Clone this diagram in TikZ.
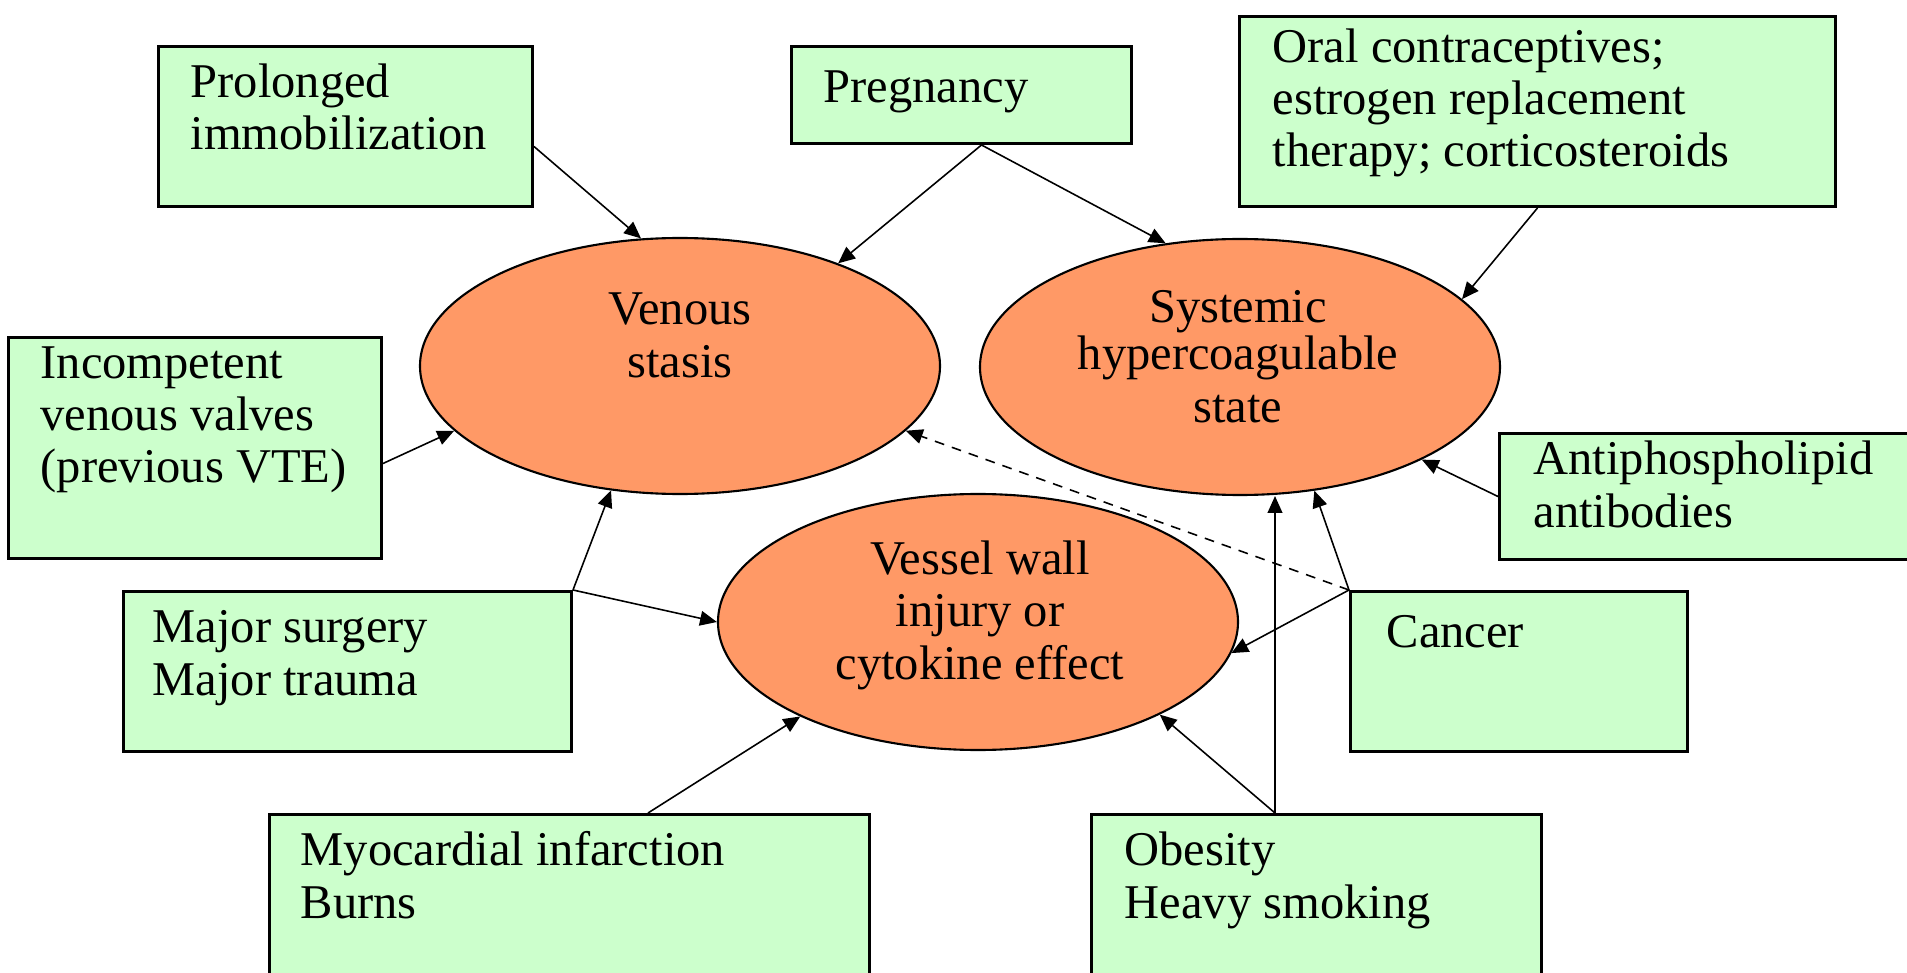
\documentclass[tikz,border=0pt]{standalone}
\usepackage{fontspec}
\setmainfont{Liberation Serif}
\usetikzlibrary{shapes.geometric,arrows.meta}

\definecolor{riskgreen}{RGB}{204,255,204}
\definecolor{stateorange}{RGB}{255,153,102}

\begin{document}
\begin{tikzpicture}[>={Triangle[length=4.8pt,width=4.2pt]},
    every node/.style={font=\fontsize{13.8pt}{14.8pt}\selectfont},
    riskbox/.style={draw, line width=0.85pt, fill=riskgreen, anchor=north west, inner sep=0pt},
    statebox/.style={ellipse, draw, line width=0.6pt, fill=stateorange,
                     minimum width=5.2cm, minimum height=2.56cm, inner sep=0pt},
    risktext/.style={anchor=base west, align=left, inner sep=0pt},
    statetext/.style={anchor=base, align=center, inner sep=0pt},
    link/.style={line width=0.45pt, ->}]
    \useasboundingbox (0,0) rectangle (19.07,-9.73);

    % Risk factor boxes
    \node[riskbox, minimum width=3.74cm, minimum height=1.60cm] (immob) at (1.57,-0.45) {};
    \node[riskbox, minimum width=3.40cm, minimum height=0.97cm] (pregnancy) at (7.90,-0.45) {};
    \node[riskbox, minimum width=5.96cm, minimum height=1.90cm] (hormones) at (12.38,-0.15) {};
    \node[riskbox, minimum width=3.73cm, minimum height=2.21cm] (valves) at (0.07,-3.36) {};
    \node[riskbox, minimum width=4.20cm, minimum height=1.26cm] (apl) at (14.98,-4.32) {};
    \node[riskbox, minimum width=4.48cm, minimum height=1.60cm] (surgery) at (1.22,-5.90) {};
    \node[riskbox, minimum width=3.37cm, minimum height=1.60cm] (cancer) at (13.49,-5.90) {};
    \node[riskbox, minimum width=6.00cm, minimum height=1.80cm] (mi) at (2.68,-8.13) {};
    \node[riskbox, minimum width=4.50cm, minimum height=1.80cm] (smoking) at (10.90,-8.13) {};

    % texts sit on the baseline of their last line
    \node[risktext] (immob-txt) at (1.90,-1.50) {Prolonged\\immobilization};
    \node[risktext] (pregnancy-txt) at (8.23,-1.03) {Pregnancy};
    \node[risktext] (hormones-txt) at (12.72,-1.67) {Oral contraceptives;\\estrogen replacement\\therapy; corticosteroids};
    \node[risktext] (valves-txt) at (0.40,-4.83) {Incompetent\\venous valves\\(previous VTE)};
    \node[risktext] (apl-txt) at (15.33,-5.27) {Antiphospholipid\\antibodies};
    \node[risktext] (surgery-txt) at (1.52,-6.95) {Major surgery\\Major trauma};
    \node[risktext] (cancer-txt) at (13.86,-6.47) {Cancer};
    \node[risktext] (mi-txt) at (3.00,-9.18) {Myocardial infarction\\Burns};
    \node[risktext] (smoking-txt) at (11.24,-9.18) {Obesity\\Heavy smoking};

    % Virchow's triad
    \node[statebox] (stasis) at (6.80,-3.66) {};
    \node[statebox] (hypercoag) at (12.40,-3.67) {};
    \node[statebox] (injury) at (9.78,-6.22) {};

    \node[statetext] (stasis-txt) at (6.80,-3.77) {Venous\\stasis};
    \node[statetext] (hypercoag-txt) at (12.38,-4.22) {Systemic\\[-1.2pt]hypercoagulable\\state};
    \node[statetext] (injury-txt) at (9.80,-6.79) {Vessel wall\\injury or\\cytokine effect};

    % Tails that are not on an anchor
    \coordinate (immob-out) at ([yshift=-0.2cm]immob.east);
    \coordinate (pregnancy-out) at ([xshift=0.2cm]pregnancy.south);
    \coordinate (valves-out) at ([yshift=-0.155cm]valves.east);
    \coordinate (mi-out) at ([xshift=3.8cm]mi.north west);
    \coordinate (smoking-out) at ([xshift=1.85cm]smoking.north west);

    % Arrows
    \draw[link] (immob-out) -- (stasis.107);
    \draw[link] (pregnancy-out) -- (stasis.33);
    \draw[link] (pregnancy-out) -- (hypercoag.121);
    \draw[link] (hormones.south) -- (hypercoag.17);
    \draw[link] (valves-out) -- (stasis.196);
    \draw[link] (apl.west) -- (hypercoag.333);
    \draw[link] (surgery.north east) -- (stasis.241);
    \draw[link] (surgery.north east) -- (injury.180);
    \draw[link, dash pattern=on 2.8pt off 2.3pt] (cancer.north west) -- (stasis.344);
    \draw[link] (cancer.north west) -- (injury.353);
    \draw[link] (cancer.north west) -- (hypercoag.301);
    \draw[link] (mi-out) -- (injury.208);
    \draw[link] (smoking-out) -- (injury.333);
    \draw[link] (smoking-out) -- (smoking-out |- hypercoag.south);
\end{tikzpicture}
\end{document}
